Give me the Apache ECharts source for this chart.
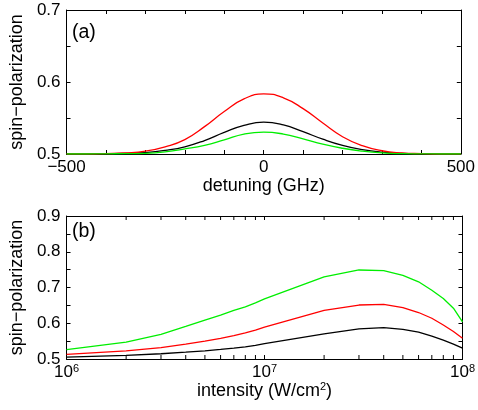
<!DOCTYPE html>
<html>
<head>
<meta charset="utf-8">
<script src="https://cdn.jsdelivr.net/npm/echarts@6/dist/echarts.min.js"></script>
<style>
html,body{margin:0;padding:0;background:#fff;}
#chart{width:478px;height:410px;}
</style>
</head>
<body>
<div id="chart"></div>
<script>
'use strict';

//面板(a) 失谐
var detuning = [-500,-450,-400,-350,-300,-250,-200,-150,-100,-50,0,50,100,150,200,250,300,350,400,450,500];
var redA   = [0.5,0.5,0.5005,0.5015,0.504,0.510,0.520,0.538,0.559,0.5765,0.5835,0.578,0.563,0.543,0.524,0.5115,0.5045,0.5015,0.5005,0.5,0.5];
var blackA = [0.5,0.5,0.5003,0.501,0.502,0.505,0.510,0.5187,0.530,0.5397,0.5443,0.5405,0.531,0.5206,0.512,0.506,0.5025,0.501,0.5003,0.5,0.5];
var greenA = [0.5,0.5,0.5002,0.5005,0.501,0.503,0.507,0.512,0.5196,0.5276,0.5304,0.5277,0.521,0.5136,0.508,0.504,0.5015,0.5005,0.5002,0.5,0.5];

//面板(b) 光强
var intensity = [1e6,2e6,3e6,4e6,5e6,6e6,7e6,8e6,9e6,1e7,2e7,3e7,4e7,5e7,6e7,7e7,8e7,9e7,1e8];
var greenB = [0.526,0.547,0.569,0.591,0.609,0.623,0.636,0.646,0.657,0.668,0.730,0.749,0.747,0.734,0.716,0.6925,0.669,0.642,0.604];
var redB   = [0.513,0.523,0.532,0.5415,0.55,0.558,0.5656,0.573,0.5805,0.589,0.636,0.651,0.653,0.644,0.630,0.614,0.595,0.577,0.558];
var blackB = [0.5055,0.510,0.5147,0.519,0.523,0.5267,0.5305,0.534,0.538,0.543,0.570,0.584,0.588,0.583,0.575,0.564,0.553,0.5415,0.5305];

//对数轴次刻度
var minorTicksB = [2e6,3e6,4e6,5e6,6e6,7e6,8e6,9e6,2e7,3e7,4e7,5e7,6e7,7e7,8e7,9e7];

var font = 'Liberation Sans, Arial, Helvetica, sans-serif';

var pairs = function(xs, ys){
	return xs.map(function(x, i){ return [x, ys[i]]; });
};

var baseAxis = function(){
	return {
		axisLine : {show:true, onZero:false, lineStyle:{color:'#000', width:1}},
		axisTick : {show:true, inside:true, length:4, lineStyle:{color:'#000', width:1}},
		splitLine : {show:false},
		axisLabel : {show:false}
	};
};

var lineSeries = function(name, data, color, xi, yi){
	return {
		name:name, type:'line', xAxisIndex:xi, yAxisIndex:yi,
		data:data, showSymbol:false, symbol:'none',
		smooth: xi === 0 ? true : false,
		lineStyle:{color:color, width:1.3}, itemStyle:{color:color}
	};
};

var tenLabel = function(v){
	return '{b|10}{s|' + Math.round(Math.log10(v)) + '}';
};

//上标样式
var supRich = {
	b:{fontSize:17, fontFamily:font, color:'#000'},
	n:{fontSize:18, fontFamily:font, color:'#000'},
	s:{fontSize:11, fontFamily:font, color:'#000', verticalAlign:'top', padding:[0,0,8,0]}
};

var myChart = echarts.init(document.getElementById('chart'));

var xa0 = echarts.util.merge(baseAxis(), {
	gridIndex:0, type:'value', position:'bottom', min:-500, max:500, interval:100,
	axisLabel:{show:true, color:'#000', fontSize:17, fontFamily:font, margin:5,
		formatter:function(v){ return (v % 500 === 0) ? String(v).replace('-', '\u2212') : ''; }},
	name:'detuning (GHz)', nameLocation:'middle', nameGap:22,
	nameTextStyle:{color:'#000', fontSize:18, fontFamily:font}
}, true);
var xa1 = echarts.util.merge(baseAxis(), {
	gridIndex:0, type:'value', position:'top', min:-500, max:500, interval:100
}, true);
var ya0 = echarts.util.merge(baseAxis(), {
	gridIndex:0, type:'value', position:'left', min:0.5, max:0.7, interval:0.05,
	axisLabel:{show:true, color:'#000', fontSize:17, fontFamily:font, margin:6,
		formatter:function(v){ return Math.round(v * 100) % 10 === 0 ? v.toFixed(1) : ''; }},
	name:'spin\u2212polarization', nameLocation:'middle', nameGap:34,
	nameTextStyle:{color:'#000', fontSize:18, fontFamily:font}
}, true);
var ya1 = echarts.util.merge(baseAxis(), {
	gridIndex:0, type:'value', position:'right', min:0.5, max:0.7, interval:0.05
}, true);

var xb0 = echarts.util.merge(baseAxis(), {
	gridIndex:1, type:'log', logBase:10, position:'bottom', min:1e6, max:1e8,
	axisLabel:{show:true, color:'#000', fontFamily:font, margin:4, formatter:tenLabel, rich:supRich},
	name:'{n|intensity (W/cm}{s|2}{n|)}', nameLocation:'middle', nameGap:22,
	nameTextStyle:{color:'#000', fontSize:18, fontFamily:font, rich:supRich}
}, true);
var xb1 = echarts.util.merge(baseAxis(), {
	gridIndex:1, type:'log', logBase:10, position:'top', min:1e6, max:1e8
}, true);
var yb0 = echarts.util.merge(baseAxis(), {
	gridIndex:1, type:'value', position:'left', min:0.5, max:0.9, interval:0.05,
	axisLabel:{show:true, color:'#000', fontSize:17, fontFamily:font, margin:6,
		formatter:function(v){ return Math.round(v * 100) % 10 === 0 ? v.toFixed(1) : ''; }},
	name:'spin\u2212polarization', nameLocation:'middle', nameGap:34,
	nameTextStyle:{color:'#000', fontSize:18, fontFamily:font}
}, true);
var yb1 = echarts.util.merge(baseAxis(), {
	gridIndex:1, type:'value', position:'right', min:0.5, max:0.9, interval:0.05
}, true);

var option = {
	animation:false,
	backgroundColor:'#fff',
	textStyle:{fontFamily:font},
	grid:[
		{left:63, top:10, width:401, height:144},
		{left:63, top:216, width:400, height:143}
	],
	xAxis:[xa0, xa1, xb0, xb1],
	yAxis:[ya0, ya1, yb0, yb1],
	graphic:[
		{type:'text', left:72, top:23, style:{text:'(a)', font:'19.5px ' + font, fill:'#000'}},
		{type:'text', left:72, top:222, style:{text:'(b)', font:'19.5px ' + font, fill:'#000'}}
	],
	series:[
		lineSeries('black a', pairs(detuning, blackA), '#000000', 0, 0),
		lineSeries('red a', pairs(detuning, redA), '#ff0000', 0, 0),
		lineSeries('green a', pairs(detuning, greenA), '#00ee00', 0, 0),
		lineSeries('green b', pairs(intensity, greenB), '#00ee00', 2, 2),
		lineSeries('red b', pairs(intensity, redB), '#ff0000', 2, 2),
		lineSeries('black b', pairs(intensity, blackB), '#000000', 2, 2),
		{
			//对数轴次刻度（上下两边）
			type:'custom', xAxisIndex:2, yAxisIndex:2, silent:true, clip:false, z:5,
			data:minorTicksB.map(function(v){ return [v, 0.5]; }),
			renderItem:function(params, api){
				var b = api.coord([api.value(0), 0.5]);
				var t = api.coord([api.value(0), 0.9]);
				return {type:'group', children:[
					{type:'line', shape:{x1:b[0], y1:b[1], x2:b[0], y2:b[1] - 4}, style:{stroke:'#000', lineWidth:1}},
					{type:'line', shape:{x1:t[0], y1:t[1], x2:t[0], y2:t[1] + 4}, style:{stroke:'#000', lineWidth:1}}
				]};
			}
		}
	]
};

myChart.setOption(option);
</script>
</body>
</html>
